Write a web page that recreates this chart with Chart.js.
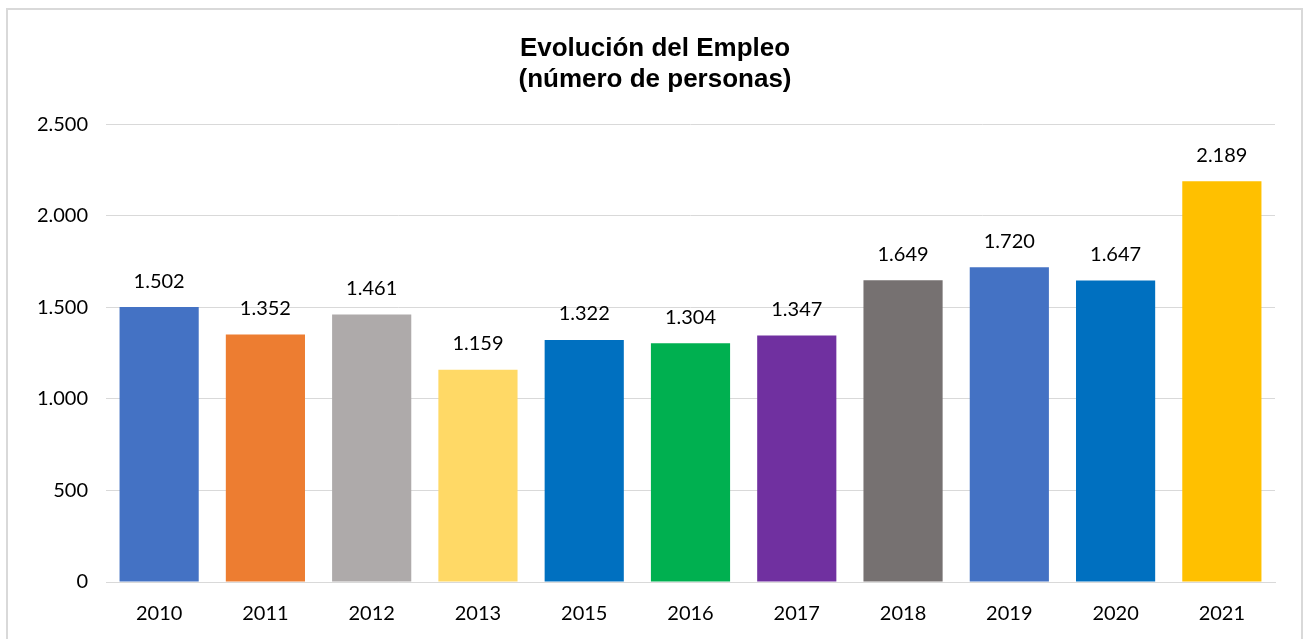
<!DOCTYPE html>
<html>
<head>
<meta charset="utf-8">
<script src="https://cdn.jsdelivr.net/npm/chart.js@4"></script>
<style>
    body { margin: 0; background: #fff; overflow: hidden; }
    #wrap { position: relative; width: 1305px; height: 639px; }
    #frame { position: absolute; left: 6px; top: 8px; width: 1293px; height: 700px; border: 2px solid #d9d9d9; }
    #chart { position: absolute; left: 0; top: 0; }
</style>
</head>
<body>
<div id="wrap">
    <div id="frame"></div>
    <canvas id="chart" width="1305" height="639"></canvas>
</div>
<script>
const years = ['2010', '2011', '2012', '2013', '2015', '2016', '2017', '2018', '2019', '2020', '2021'];
const employment = [1502, 1352, 1461, 1159, 1322, 1304, 1347, 1649, 1720, 1647, 2189];
const barColors = ['#4472C4', '#ED7D31', '#AEAAAA', '#FFD966', '#0070C0', '#00B050', '#7030A0', '#767171', '#4472C4', '#0070C0', '#FFC000'];
const yTicks = [0, 500, 1000, 1500, 2000, 2500];

const labelFont = '"Lato", "Open Sans", sans-serif';

function formatNumber(n) {
    return n.toLocaleString('de-DE');
}

// values above the bars
const valueLabels = {
    id: 'valueLabels',
    afterDatasetsDraw(chart) {
        const ctx = chart.ctx;
        const meta = chart.getDatasetMeta(0);
        ctx.save();
        ctx.font = '20px ' + labelFont;
        ctx.fillStyle = '#000';
        ctx.textAlign = 'center';
        ctx.textBaseline = 'middle';
        meta.data.forEach(function (bar, i) {
            ctx.fillText(formatNumber(employment[i]), bar.x, bar.y - 26);
        });
        ctx.restore();
    }
};

const ctx = document.getElementById('chart').getContext('2d');

new Chart(ctx, {
    type: 'bar',
    data: {
        labels: years,
        datasets: [{
            data: employment,
            backgroundColor: barColors,
            borderWidth: 0,
            categoryPercentage: 1,
            barPercentage: 0.745
        }]
    },
    options: {
        responsive: false,
        animation: false,
        layout: {
            padding: { left: 35, right: 30, top: 0, bottom: 0 }
        },
        plugins: {
            legend: { display: false },
            tooltip: { enabled: false },
            title: {
                display: true,
                text: ['Evolución del Empleo', '(número de personas)'],
                color: '#000',
                font: { family: '"Liberation Sans", Arial, sans-serif', size: 26, weight: 'bold', lineHeight: 1.2 },
                padding: { top: 33, bottom: 29 }
            }
        },
        scales: {
            x: {
                afterFit(axis) {
                    axis.height = 57;
                },
                grid: { display: false, drawTicks: false },
                border: { color: '#d9d9d9', width: 1 },
                ticks: {
                    color: '#000',
                    font: { family: labelFont, size: 20 },
                    padding: 20
                }
            },
            y: {
                min: 0,
                max: 2500,
                afterBuildTicks(axis) {
                    axis.ticks = yTicks.map(v => ({ value: v }));
                },
                afterFit(axis) {
                    axis.width = 71;
                },
                grid: { color: '#d9d9d9', lineWidth: 1, drawTicks: false },
                border: { display: false },
                ticks: {
                    color: '#000',
                    font: { family: labelFont, size: 20 },
                    padding: 18,
                    callback: v => formatNumber(v)
                }
            }
        }
    },
    plugins: [valueLabels]
});
</script>
</body>
</html>
